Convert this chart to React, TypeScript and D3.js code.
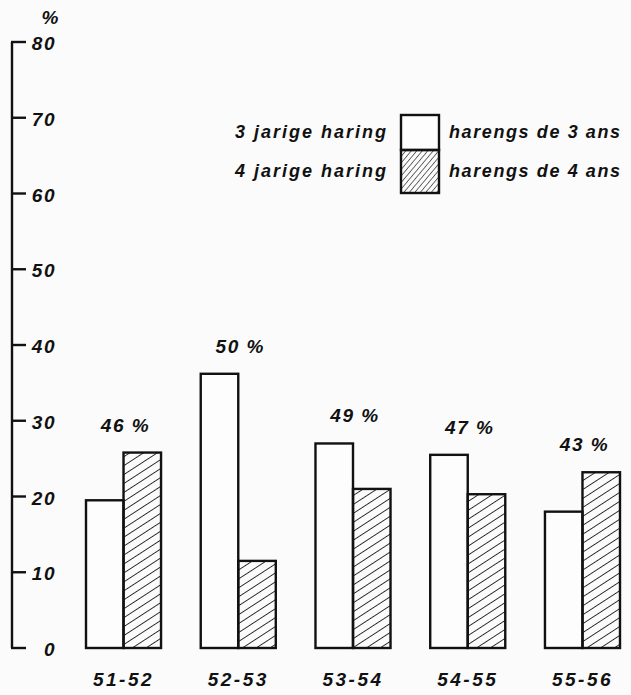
import React from "react";
import * as d3 from "d3";

const categories = ["51-52", "52-53", "53-54", "54-55", "55-56"];
const threeYear = [19.5, 36.2, 27.0, 25.5, 18.0];
const fourYear = [25.8, 11.5, 21.0, 20.3, 23.2];
const percentLabels = ["46 %", "50 %", "49 %", "47 %", "43 %"];
const yTicks = [0, 10, 20, 30, 40, 50, 60, 70, 80];
const legendLeft = ["3 jarige haring", "4 jarige haring"];
const legendRight = ["harengs de 3 ans", "harengs de 4 ans"];

const W = 631;
const H = 695;
const FONT = "'Liberation Sans', Arial, sans-serif";

export default function App() {
  const y = d3.scaleLinear().domain([0, 80]).range([648, 42]);
  const x = d3.scaleBand<string>().domain(categories).range([86, 620]).paddingInner(0.346).paddingOuter(0);
  const bw = x.bandwidth() / 2;
  const axisX = 12;
  const stroke = "#111";

  return (
    <svg width={W} height={H} style={{ position: "absolute", left: 0, top: 0, background: "#fbfbfb" }}>
      <defs>
        <pattern id="hatch" patternUnits="userSpaceOnUse" width="7.5" height="20" patternTransform="rotate(57)">
          <line x1="0" y1="0" x2="0" y2="20" stroke={stroke} strokeWidth="1.7" />
        </pattern>
        <pattern id="hatchLeg" patternUnits="userSpaceOnUse" width="4.2" height="20" patternTransform="rotate(40)">
          <line x1="0" y1="0" x2="0" y2="20" stroke={stroke} strokeWidth="1.2" />
        </pattern>
      </defs>
      <rect x={0} y={0} width={W} height={H} fill="#fbfbfb" />

      {/* Y axis */}
      <line x1={axisX} x2={axisX} y1={y(80)} y2={y(0)} stroke={stroke} strokeWidth={2.4} />
      {yTicks.map((t) => (
        <g key={t}>
          <line x1={axisX - 1} x2={axisX + 14} y1={y(t)} y2={y(t)} stroke={stroke} strokeWidth={2.4} />
          <text
            x={56}
            y={y(t) + 3}
            textAnchor="end"
            dominantBaseline="middle"
            fontFamily={FONT}
            fontStyle="italic"
            fontWeight="bold"
            fontSize={19}
            letterSpacing={1.5}
            fill={stroke}
          >
            {t}
          </text>
        </g>
      ))}
      <text x={50} y={19} textAnchor="middle" dominantBaseline="middle" fontFamily={FONT} fontStyle="italic" fontWeight="bold" fontSize={19} fill={stroke}>
        %
      </text>

      {/* Bars */}
      {categories.map((c, i) => {
        const x0 = x(c)!;
        const top = Math.min(y(threeYear[i]), y(fourYear[i]));
        return (
          <g key={c}>
            <rect x={x0} y={y(threeYear[i])} width={bw} height={y(0) - y(threeYear[i])} fill="#fdfdfd" stroke={stroke} strokeWidth={2.4} />
            <rect x={x0 + bw} y={y(fourYear[i])} width={bw} height={y(0) - y(fourYear[i])} fill="url(#hatch)" stroke={stroke} strokeWidth={2.4} />
            <text
              x={x0 + bw + 2}
              y={top - 26}
              textAnchor="middle"
              dominantBaseline="middle"
              fontFamily={FONT}
              fontStyle="italic"
              fontWeight="bold"
              fontSize={19}
              letterSpacing={1.5}
              fill={stroke}
            >
              {percentLabels[i]}
            </text>
            <text
              x={x0 + bw}
              y={681}
              textAnchor="middle"
              dominantBaseline="middle"
              fontFamily={FONT}
              fontStyle="italic"
              fontWeight="bold"
              fontSize={19}
              letterSpacing={2.5}
              fill={stroke}
            >
              {c}
            </text>
          </g>
        );
      })}

      {/* Legend */}
      <rect x={401} y={115} width={38} height={35} fill="#fdfdfd" stroke={stroke} strokeWidth={2.4} />
      <rect x={401} y={150} width={38} height={43} fill="url(#hatchLeg)" stroke={stroke} strokeWidth={2.4} />
      {legendLeft.map((t, i) => (
        <text
          key={t}
          x={388}
          y={133 + i * 39}
          textAnchor="end"
          dominantBaseline="middle"
          fontFamily={FONT}
          fontStyle="italic"
          fontWeight="bold"
          fontSize={18}
          letterSpacing={2}
          fill={stroke}
        >
          {t}
        </text>
      ))}
      {legendRight.map((t, i) => (
        <text
          key={t}
          x={449}
          y={133 + i * 39}
          textAnchor="start"
          dominantBaseline="middle"
          fontFamily={FONT}
          fontStyle="italic"
          fontWeight="bold"
          fontSize={18}
          letterSpacing={1.6}
          fill={stroke}
        >
          {t}
        </text>
      ))}
    </svg>
  );
}
